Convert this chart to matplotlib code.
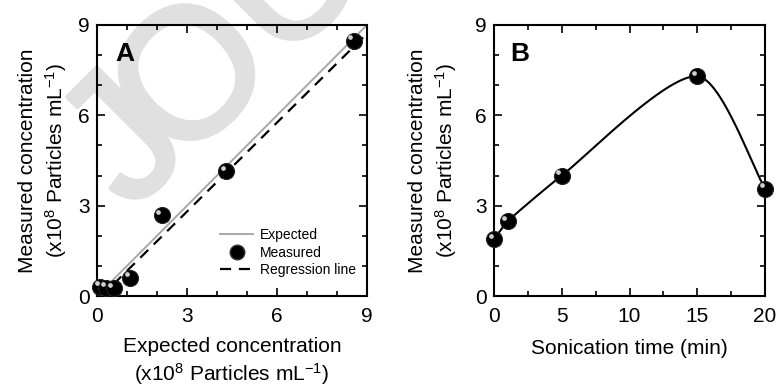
import numpy as np
import matplotlib
matplotlib.use("Agg")
import matplotlib.pyplot as plt
from matplotlib.lines import Line2D
from matplotlib import transforms
import matplotlib.patheffects as pe

plt.rcParams['font.family'] = ['Liberation Sans', 'DejaVu Sans']
plt.rcParams['mathtext.fontset'] = 'custom'
plt.rcParams['mathtext.rm'] = 'Liberation Sans'
plt.rcParams['mathtext.it'] = 'Liberation Sans:italic'
plt.rcParams['mathtext.bf'] = 'Liberation Sans:bold'

# ---- data panel A ----
expected_x = [0.1, 0.3, 0.55, 1.1, 2.15, 4.3, 8.55]
measured_y = [0.3, 0.27, 0.25, 0.6, 2.68, 4.15, 8.48]
line_range = [0.1, 9.0]
reg_slope = 0.985
reg_intercept = -0.15

# ---- data panel B ----
sonic_time = [0, 1, 5, 15, 20]
sonic_conc = [1.88, 2.48, 4.0, 7.3, 3.57]

ylabel = 'Measured concentration\n(x10$^{8}$ Particles mL$^{-1}$)'
xlabel_a = 'Expected concentration\n(x10$^{8}$ Particles mL$^{-1}$)'
xlabel_b = 'Sonication time (min)'


def tension_curve(ax, x, y, k=0.55, n=80):
    """Parametric Hermite spline in display space (rendered through the axes transform)."""
    pts = ax.transData.transform(np.column_stack([x, y]))
    m = len(pts)
    dirs = []
    for i in range(m):
        if i == 0:
            d = pts[1] - pts[0]
        elif i == m - 1:
            d = pts[-1] - pts[-2]
        else:
            d = pts[i + 1] - pts[i - 1]
        dirs.append(d / np.hypot(*d))
    out = []
    t = np.linspace(0, 1, n)[:, None]
    h00 = 2 * t**3 - 3 * t**2 + 1
    h10 = t**3 - 2 * t**2 + t
    h01 = -2 * t**3 + 3 * t**2
    h11 = t**3 - t**2
    for i in range(m - 1):
        L = np.hypot(*(pts[i + 1] - pts[i]))
        T0 = dirs[i] * L * k
        T1 = dirs[i + 1] * L * k
        seg = h00 * pts[i] + h10 * T0 + h01 * pts[i + 1] + h11 * T1
        out.append(seg)
    disp = np.vstack(out)
    return ax.transData.inverted().transform(disp)


fig = plt.figure(figsize=(7.77, 3.87), dpi=100)

# watermark
wm_color = '#e0e0e0'
wm_kw = dict(fontsize=133, color=wm_color, rotation=45, rotation_mode='anchor',
             ha='left', va='baseline', zorder=-5,
             path_effects=[pe.withStroke(linewidth=3.2, foreground=wm_color)])
fig.text(131 / 777, 1 - 213 / 387, 'J', **wm_kw)
fig.text(181 / 777, 1 - 168 / 387, 'OU', **wm_kw)

axA = fig.add_axes([97 / 777, 1 - 296 / 387, 270 / 777, 271 / 387])
axB = fig.add_axes([494 / 777, 1 - 296 / 387, 271 / 777, 271 / 387])


def sphere(ax, x, y):
    ax.plot(x, y, 'o', ms=11.5, mfc='black', mec='#222222', mew=0.8,
            ls='none', zorder=4, clip_on=False)
    off = transforms.offset_copy(ax.transData, fig=fig, x=-2.5, y=2.5,
                                 units='points')
    ax.plot(x, y, 'o', ms=3.4, mfc='#e8e8e8', mec='none', alpha=0.9,
            ls='none', zorder=5, transform=off, clip_on=False)


def style(ax, ylabelpad):
    ax.set_facecolor('none')
    for s in ax.spines.values():
        s.set_linewidth(1.5)
    ax.tick_params(which='both', direction='in', top=True, right=True,
                   width=1.2, labelsize=15)
    ax.tick_params(which='major', length=5.5)
    ax.tick_params(which='minor', length=3.5)
    ax.tick_params(axis='x', pad=8)
    ax.tick_params(axis='y', pad=5)
    ax.set_ylim(0, 9)
    ax.set_yticks([0, 3, 6, 9])
    ax.set_yticks(np.arange(0, 9.01, 1), minor=True)
    ax.set_ylabel(ylabel, fontsize=15, linespacing=1.3, labelpad=ylabelpad)


# ---- Panel A ----
style(axA, 7)
axA.set_xlim(0, 9)
axA.set_xticks([0, 3, 6, 9])
axA.set_xticks(np.arange(0, 9.01, 1), minor=True)
lr = np.array(line_range)
axA.plot(lr, lr, color='#a8a8a8', lw=1.4, zorder=2)
axA.plot(lr, reg_slope * lr + reg_intercept, color='black', lw=1.6,
         dashes=(5, 3.5), zorder=3)
sphere(axA, expected_x, measured_y)
axA.set_xlabel(xlabel_a, fontsize=15, linespacing=1.25, labelpad=8)
axA.text(0.067, 0.937, 'A', transform=axA.transAxes, fontsize=19,
         fontweight='bold', va='top', ha='left')
handles = [Line2D([], [], color='#a8a8a8', lw=1.4),
           Line2D([], [], marker='o', ms=10.5, mfc='black', mec='#333333',
                  ls='none'),
           Line2D([], [], color='black', lw=1.6, dashes=(5, 3.5))]
axA.legend(handles, ['Expected', 'Measured', 'Regression line'],
           loc='upper left', bbox_to_anchor=(0.455, 0.25), frameon=False,
           fontsize=10, handlelength=2.4, handletextpad=0.5,
           labelspacing=0.25, borderpad=0, borderaxespad=0)

# ---- Panel B ----
style(axB, 12)
axB.set_xlim(0, 20)
axB.set_xticks([0, 5, 10, 15, 20])
axB.set_xticks(np.arange(0, 20.01, 2.5), minor=True)
curve = tension_curve(axB, sonic_time, sonic_conc)
axB.plot(curve[:, 0], curve[:, 1], color='black', lw=1.5, zorder=3,
         clip_on=False)
sphere(axB, sonic_time, sonic_conc)
axB.set_xlabel(xlabel_b, fontsize=15, labelpad=9)
axB.text(0.059, 0.937, 'B', transform=axB.transAxes, fontsize=19,
         fontweight='bold', va='top', ha='left')

fig.savefig('out.png', dpi=100)
